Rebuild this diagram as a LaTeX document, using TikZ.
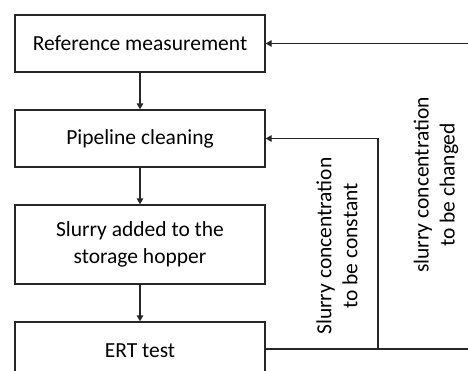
\documentclass[tikz,border=0pt]{standalone}
\usepackage{fontspec}
\setmainfont{Carlito}
\usetikzlibrary{arrows.meta}
\begin{document}
\begin{tikzpicture}[x=1pt,y=-1pt,
  stepbox/.style={draw=black!85,line width=1.3pt,minimum width=250pt,inner sep=0pt,font=\fontsize{21.5}{26.5}\selectfont,align=center},
  conn/.style={line width=1.3pt,draw=black!85},
  arr/.style={conn,-{Triangle[length=6pt,width=6.5pt]}},
  lbl/.style={rotate=90,align=center,inner sep=0pt,font=\fontsize{21.5}{26}\selectfont}]
\useasboundingbox (0,0) rectangle (468,370);
\clip (0,0) rectangle (468,370);
\node[stepbox,minimum height=57pt] (ref) at (140,43.5) {Reference measurement};
\node[stepbox,minimum height=57pt] (pipe) at (140,138.5) {Pipeline cleaning};
\node[stepbox,minimum height=79pt] (slurry) at (140,244.5) {Slurry added to the\\storage hopper};
\node[stepbox,minimum height=57pt] (ert) at (140,350.5) {ERT test};
\draw[arr] (ref) -- (pipe);
\draw[arr] (pipe) -- (slurry);
\draw[arr] (slurry) -- (ert);
\coordinate (j) at (378,349);
\coordinate (re) at (472,349);
\coordinate (rt) at (472,43.5);
\draw[conn] (ert.east |- j) -- (re);
\draw[arr] (j) |- (pipe.east);
\draw[arr] (rt) -- (ref.east);
\node[lbl] (c1) at (337,246) {Slurry concentration\\to be constant};
\node[lbl] (c2) at (436,185) {slurry concentration\\to be changed};
\end{tikzpicture}
\end{document}
